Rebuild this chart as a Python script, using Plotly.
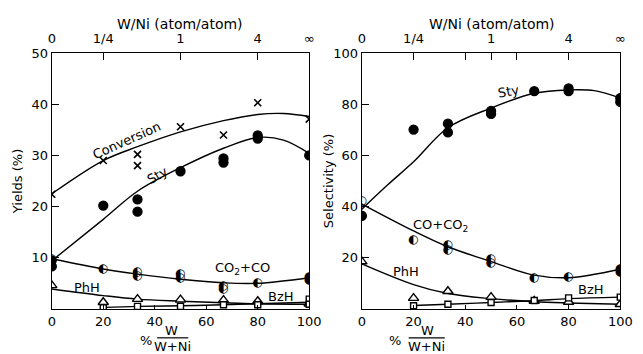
import plotly.graph_objects as go

# ---------------- data ----------------
# Left panel: yields (%)
L_conv_x = [0, 20, 33.3, 33.3, 50, 66.7, 80, 100]
L_conv_y = [22.4, 29.0, 30.2, 28.0, 35.6, 34.0, 40.3, 37.1]
L_conv_fx = [0, 20, 33.3, 50, 66.7, 80, 90, 100]
L_conv_fy = [22.5, 29.0, 31.7, 34.6, 36.8, 38.0, 38.2, 37.6]

L_sty_x = [0, 0, 20, 33.3, 33.3, 50, 66.7, 66.7, 80, 80, 100]
L_sty_y = [9.5, 8.3, 20.2, 21.4, 19.0, 26.9, 29.4, 28.6, 33.9, 33.3, 30.0]
L_sty_fx = [0, 20, 33.3, 50, 66.7, 80, 90, 100]
L_sty_fy = [9.4, 17.5, 23.0, 27.6, 31.4, 33.5, 33.0, 30.4]

L_co_x = [0, 0, 20, 33.3, 33.3, 50, 50, 66.7, 66.7, 80, 100, 100]
L_co_y = [9.8, 8.3, 7.7, 7.3, 6.4, 6.9, 6.0, 4.4, 3.8, 5.0, 6.3, 5.7]
L_co_fx = [0, 20, 33.3, 50, 66.7, 80, 100]
L_co_fy = [9.8, 7.8, 6.8, 5.8, 5.1, 5.0, 6.1]

L_phh_x = [0, 20, 33.3, 50, 66.7, 80, 100]
L_phh_y = [4.6, 1.3, 1.9, 1.8, 1.7, 1.5, 1.0]
L_phh_fx = [0, 20, 33.3, 50, 66.7, 80, 100]
L_phh_fy = [3.9, 2.6, 1.9, 1.5, 1.2, 1.0, 0.9]

L_bzh_x = [20, 33.3, 50, 66.7, 80, 100, 100]
L_bzh_y = [0.2, 0.5, 0.5, 0.8, 0.8, 1.9, 0.9]
L_bzh_fx = [20, 33.3, 50, 66.7, 80, 100]
L_bzh_fy = [0.3, 0.5, 0.6, 0.8, 1.0, 1.3]

# Right panel: selectivity (%)
R_sty_x = [0, 20, 33.3, 33.3, 50, 50, 66.7, 80, 80, 100, 100]
R_sty_y = [36.4, 70.1, 72.4, 69.0, 77.4, 76.2, 85.1, 86.2, 85.1, 82.4, 80.9]
R_sty_fx = [0, 10, 20, 33.3, 50, 66.7, 80, 90, 100]
R_sty_fy = [39.0, 48.5, 57.5, 70.8, 78.5, 84.3, 85.6, 85.3, 82.4]

R_co_x = [0, 20, 33.3, 33.3, 50, 50, 66.7, 80, 100, 100]
R_co_y = [42.0, 26.8, 24.9, 23.0, 19.5, 18.0, 11.9, 12.6, 15.7, 14.6]
R_co_fx = [0, 20, 33.3, 50, 66.7, 80, 100]
R_co_fy = [41.0, 30.5, 24.3, 18.5, 13.2, 12.2, 15.5]

R_phh_x = [0, 20, 33.3, 50, 66.7, 80, 100]
R_phh_y = [18.5, 4.2, 6.9, 4.6, 3.1, 2.7, 1.8]
R_phh_fx = [0, 20, 33.3, 50, 66.7, 80, 100]
R_phh_fy = [17.6, 9.5, 6.0, 4.0, 2.8, 2.3, 1.8]

R_bzh_x = [20, 33.3, 50, 66.7, 80, 100]
R_bzh_y = [1.2, 1.8, 2.5, 3.3, 4.3, 4.6]
R_bzh_fx = [20, 33.3, 50, 66.7, 80, 100]
R_bzh_fy = [1.3, 1.8, 2.5, 3.2, 4.0, 4.6]

bottom_ticks = [0, 20, 40, 60, 80, 100]
top_ticks = [0, 20, 50, 80, 100]
top_text = ["0", "1/4", "1", "4", "∞"]
top_minor_right = [40, 60]
left_yticks = [10, 20, 30, 40, 50]
right_yticks = [20, 40, 60, 80, 100]

# ---------------- figure ----------------
FONT = "DejaVu Sans"
fig = go.Figure()


def curve(x, y, xa, ya):
    fig.add_trace(go.Scatter(x=x, y=y, mode="lines", xaxis=xa, yaxis=ya,
                             line=dict(color="black", width=1.4, shape="spline", smoothing=1.0),
                             showlegend=False, hoverinfo="skip"))


def pts(x, y, xa, ya, symbol, size, lw=1.3):
    fig.add_trace(go.Scatter(x=x, y=y, mode="markers", xaxis=xa, yaxis=ya,
                             marker=dict(symbol=symbol, size=size, color="black",
                                         line=dict(color="black", width=lw)),
                             showlegend=False))


def half(x, y, xa, ya):
    fig.add_trace(go.Scatter(x=x, y=y, mode="text", xaxis=xa, yaxis=ya, text=["◐"] * len(x),
                             textfont=dict(family=FONT, size=12, color="black"),
                             showlegend=False))


def openpts(x, y, xa, ya, symbol, size):
    fig.add_trace(go.Scatter(x=x, y=y, mode="markers", xaxis=xa, yaxis=ya,
                             marker=dict(symbol=symbol, size=size, color="white",
                                         line=dict(color="black", width=1.4)),
                             showlegend=False))


# left
curve(L_conv_fx, L_conv_fy, "x", "y")
curve(L_sty_fx, L_sty_fy, "x", "y")
curve(L_co_fx, L_co_fy, "x", "y")
curve(L_phh_fx, L_phh_fy, "x", "y")
curve(L_bzh_fx, L_bzh_fy, "x", "y")
pts(L_conv_x, L_conv_y, "x", "y", "x-thin", 7, 1.6)
pts(L_sty_x, L_sty_y, "x", "y", "circle", 9)
half(L_co_x, L_co_y, "x", "y")
openpts(L_phh_x, L_phh_y, "x", "y", "triangle-up", 9)
openpts(L_bzh_x, L_bzh_y, "x", "y", "square", 6)

# right
curve(R_sty_fx, R_sty_fy, "x2", "y2")
curve(R_co_fx, R_co_fy, "x2", "y2")
curve(R_phh_fx, R_phh_fy, "x2", "y2")
curve(R_bzh_fx, R_bzh_fy, "x2", "y2")
pts(R_sty_x, R_sty_y, "x2", "y2", "circle", 9)
half(R_co_x, R_co_y, "x2", "y2")
openpts(R_phh_x, R_phh_y, "x2", "y2", "triangle-up", 9)
openpts(R_bzh_x, R_bzh_y, "x2", "y2", "square", 6)

# invisible traces to activate top axes
fig.add_trace(go.Scatter(x=[0, 100], y=[0, 0], xaxis="x3", yaxis="y", mode="markers",
                         marker=dict(opacity=0), showlegend=False, hoverinfo="skip"))
fig.add_trace(go.Scatter(x=[0, 100], y=[0, 0], xaxis="x4", yaxis="y2", mode="markers",
                         marker=dict(opacity=0), showlegend=False, hoverinfo="skip"))

tf = dict(family=FONT, size=13, color="black")
common_x = dict(range=[0, 100], showline=True, linecolor="black", linewidth=1.4,
                ticks="inside", ticklen=4, tickcolor="black", tickfont=tf,
                showgrid=False, zeroline=False, tickvals=bottom_ticks, fixedrange=True)
common_y = dict(showline=True, linecolor="black", linewidth=1.4, ticks="inside",
                ticklen=7, tickcolor="black", tickfont=tf, showgrid=False,
                zeroline=False, mirror=True, fixedrange=True)
common_top = dict(side="top", range=[0, 100], ticks="inside", ticklen=7,
                  tickcolor="black", tickfont=tf, showline=True, linecolor="black",
                  linewidth=1.4, showgrid=False, zeroline=False, fixedrange=True,
                  ticklabelstandoff=4, tickvals=top_ticks, ticktext=top_text)

XD1 = [0.0762, 0.4868]
XD2 = [0.5708, 0.9829]
YD = [0.130, 0.8672]

fig.update_layout(
    width=643, height=354, margin=dict(l=0, r=0, t=0, b=0),
    paper_bgcolor="white", plot_bgcolor="white",
    font=dict(family=FONT, size=12, color="black"),
    xaxis=dict(domain=XD1, anchor="y", **common_x),
    yaxis=dict(domain=YD, anchor="x", range=[0, 50], tickvals=left_yticks, **common_y),
    xaxis2=dict(domain=XD2, anchor="y2", **common_x),
    yaxis2=dict(domain=YD, anchor="x2", range=[0, 100], tickvals=right_yticks, **common_y),
    xaxis3=dict(overlaying="x", anchor="y", **common_top),
    xaxis4=dict(overlaying="x2", anchor="y2",
                minor=dict(tickmode="array", tickvals=top_minor_right, ticks="inside",
                           ticklen=7, tickwidth=1.4, tickcolor="black", showgrid=False),
                **common_top),
)

ann = []


def lab(text, x, y, xref, yref, angle=0, size=12):
    ann.append(dict(text=text, x=x, y=y, xref=xref, yref=yref, showarrow=False,
                    xanchor="center", yanchor="middle",
                    textangle=angle, font=dict(family=FONT, size=size, color="black")))


# in-plot labels
lab("Conversion", 29, 33, "x", "y", -24, 13)
lab("Sty", 41, 26, "x", "y", -30, 13)
lab("CO<sub>2</sub>+CO", 74, 7.9, "x", "y", 0, 13)
lab("PhH", 13.6, 4.2, "x", "y", 0, 13)
lab("BzH", 89, 2.5, "x", "y", 0, 13)
lab("Sty", 56.6, 84.8, "x2", "y2", -10, 13)
lab("CO+CO<sub>2</sub>", 30.6, 32.5, "x2", "y2", 0, 13)
lab("PhH", 17, 14.6, "x2", "y2", 0, 13)
lab("BzH", 88.7, 7.7, "x2", "y2", 0, 13)

# axis titles (paper coords)
lab("Yields (%)", 14 / 643, 1 - 178 / 354, "paper", "paper", -90, 13)
lab("Selectivity (%)", 333 / 643, 1 - 178 / 354, "paper", "paper", -90, 13)
lab("W/Ni (atom/atom)", 181 / 643, 1 - 17 / 354, "paper", "paper", 0, 14)
lab("W/Ni (atom/atom)", 500 / 643, 1 - 17 / 354, "paper", "paper", 0, 14)
for xp, wx, lx0, lx1 in [(146, 172, 157, 189), (401, 434, 415, 452)]:
    lab("%", xp / 643, 1 - 340 / 354, "paper", "paper", 0, 13)
    lab("W", wx / 643, 1 - 330 / 354, "paper", "paper", 0, 13)
    lab("W+Ni", (lx0 + lx1) / 2 / 643, 1 - 346 / 354, "paper", "paper", 0, 13)
    fig.add_shape(type="line", xref="paper", yref="paper", x0=lx0 / 643, x1=lx1 / 643,
                  y0=1 - 337.5 / 354, y1=1 - 337.5 / 354, line=dict(color="black", width=1.2))

fig.update_layout(annotations=ann)
fig.write_html("out.html")
